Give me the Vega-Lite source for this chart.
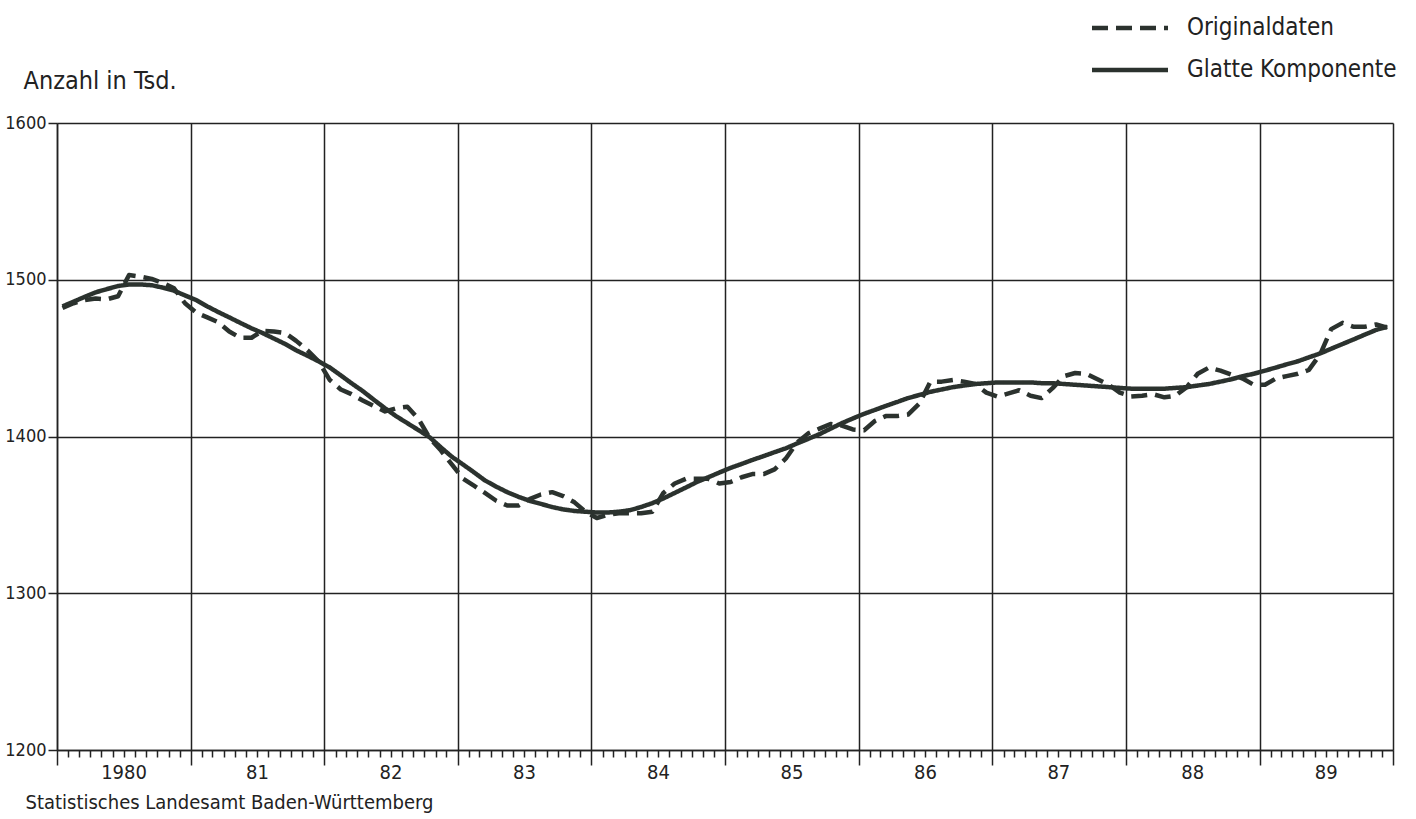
{
  "$schema": "https://vega.github.io/schema/vega-lite/v6.json",
  "width": 1336,
  "height": 627,
  "autosize": {"type": "none"},
  "padding": {"left": 57, "top": 123, "right": 23, "bottom": 69},
  "background": "white",
  "config": {
    "view": {"stroke": null},
    "font": "DejaVu Sans Condensed, Liberation Sans Narrow, Roboto, sans-serif"
  },
  "data": {
    "values": [
      {"d": "1980/01/16", "Originaldaten": 1482, "Glatte Komponente": 1483},
      {"d": "1980/02/15", "Originaldaten": 1485, "Glatte Komponente": 1486},
      {"d": "1980/03/16", "Originaldaten": 1487, "Glatte Komponente": 1489},
      {"d": "1980/04/16", "Originaldaten": 1488, "Glatte Komponente": 1492},
      {"d": "1980/05/16", "Originaldaten": 1487.5, "Glatte Komponente": 1494},
      {"d": "1980/06/16", "Originaldaten": 1489.5, "Glatte Komponente": 1496},
      {"d": "1980/07/16", "Originaldaten": 1503, "Glatte Komponente": 1497},
      {"d": "1980/08/16", "Originaldaten": 1502, "Glatte Komponente": 1497},
      {"d": "1980/09/16", "Originaldaten": 1500.5, "Glatte Komponente": 1496.5},
      {"d": "1980/10/16", "Originaldaten": 1498, "Glatte Komponente": 1495},
      {"d": "1980/11/16", "Originaldaten": 1494.5, "Glatte Komponente": 1493},
      {"d": "1980/12/16", "Originaldaten": 1485, "Glatte Komponente": 1490},
      {"d": "1981/01/16", "Originaldaten": 1479, "Glatte Komponente": 1487},
      {"d": "1981/02/15", "Originaldaten": 1476, "Glatte Komponente": 1483},
      {"d": "1981/03/16", "Originaldaten": 1473, "Glatte Komponente": 1479.5},
      {"d": "1981/04/16", "Originaldaten": 1467, "Glatte Komponente": 1476},
      {"d": "1981/05/16", "Originaldaten": 1463, "Glatte Komponente": 1472.5},
      {"d": "1981/06/16", "Originaldaten": 1463, "Glatte Komponente": 1469},
      {"d": "1981/07/16", "Originaldaten": 1467.5, "Glatte Komponente": 1466},
      {"d": "1981/08/16", "Originaldaten": 1467, "Glatte Komponente": 1462.5},
      {"d": "1981/09/16", "Originaldaten": 1466, "Glatte Komponente": 1459},
      {"d": "1981/10/16", "Originaldaten": 1461, "Glatte Komponente": 1455},
      {"d": "1981/11/16", "Originaldaten": 1455, "Glatte Komponente": 1451.5},
      {"d": "1981/12/16", "Originaldaten": 1448, "Glatte Komponente": 1448},
      {"d": "1982/01/16", "Originaldaten": 1436, "Glatte Komponente": 1444},
      {"d": "1982/02/15", "Originaldaten": 1430, "Glatte Komponente": 1439},
      {"d": "1982/03/16", "Originaldaten": 1427, "Glatte Komponente": 1434},
      {"d": "1982/04/16", "Originaldaten": 1423, "Glatte Komponente": 1429},
      {"d": "1982/05/16", "Originaldaten": 1419.5, "Glatte Komponente": 1423.5},
      {"d": "1982/06/16", "Originaldaten": 1416, "Glatte Komponente": 1418},
      {"d": "1982/07/16", "Originaldaten": 1418, "Glatte Komponente": 1413},
      {"d": "1982/08/16", "Originaldaten": 1419, "Glatte Komponente": 1408.5},
      {"d": "1982/09/16", "Originaldaten": 1411, "Glatte Komponente": 1404},
      {"d": "1982/10/16", "Originaldaten": 1399, "Glatte Komponente": 1399.5},
      {"d": "1982/11/16", "Originaldaten": 1391, "Glatte Komponente": 1393},
      {"d": "1982/12/16", "Originaldaten": 1382, "Glatte Komponente": 1387},
      {"d": "1983/01/16", "Originaldaten": 1373, "Glatte Komponente": 1382},
      {"d": "1983/02/15", "Originaldaten": 1368.5, "Glatte Komponente": 1377},
      {"d": "1983/03/16", "Originaldaten": 1364, "Glatte Komponente": 1372},
      {"d": "1983/04/16", "Originaldaten": 1359, "Glatte Komponente": 1368},
      {"d": "1983/05/16", "Originaldaten": 1356, "Glatte Komponente": 1364.5},
      {"d": "1983/06/16", "Originaldaten": 1356, "Glatte Komponente": 1361.5},
      {"d": "1983/07/16", "Originaldaten": 1360, "Glatte Komponente": 1359},
      {"d": "1983/08/16", "Originaldaten": 1363, "Glatte Komponente": 1357},
      {"d": "1983/09/16", "Originaldaten": 1364.5, "Glatte Komponente": 1355},
      {"d": "1983/10/16", "Originaldaten": 1362, "Glatte Komponente": 1353.5},
      {"d": "1983/11/16", "Originaldaten": 1358, "Glatte Komponente": 1352.5},
      {"d": "1983/12/16", "Originaldaten": 1352, "Glatte Komponente": 1352},
      {"d": "1984/01/16", "Originaldaten": 1348, "Glatte Komponente": 1351.5},
      {"d": "1984/02/15", "Originaldaten": 1350, "Glatte Komponente": 1351.5},
      {"d": "1984/03/16", "Originaldaten": 1351, "Glatte Komponente": 1352},
      {"d": "1984/04/16", "Originaldaten": 1351, "Glatte Komponente": 1353},
      {"d": "1984/05/16", "Originaldaten": 1351, "Glatte Komponente": 1355},
      {"d": "1984/06/16", "Originaldaten": 1352, "Glatte Komponente": 1357.5},
      {"d": "1984/07/16", "Originaldaten": 1364, "Glatte Komponente": 1360.5},
      {"d": "1984/08/16", "Originaldaten": 1370, "Glatte Komponente": 1364},
      {"d": "1984/09/16", "Originaldaten": 1373, "Glatte Komponente": 1367.5},
      {"d": "1984/10/16", "Originaldaten": 1373, "Glatte Komponente": 1371},
      {"d": "1984/11/16", "Originaldaten": 1373, "Glatte Komponente": 1374},
      {"d": "1984/12/16", "Originaldaten": 1370, "Glatte Komponente": 1377},
      {"d": "1985/01/16", "Originaldaten": 1371, "Glatte Komponente": 1380},
      {"d": "1985/02/15", "Originaldaten": 1374, "Glatte Komponente": 1382.5},
      {"d": "1985/03/16", "Originaldaten": 1376, "Glatte Komponente": 1385},
      {"d": "1985/04/16", "Originaldaten": 1376, "Glatte Komponente": 1387.5},
      {"d": "1985/05/16", "Originaldaten": 1379, "Glatte Komponente": 1390},
      {"d": "1985/06/16", "Originaldaten": 1386, "Glatte Komponente": 1392.5},
      {"d": "1985/07/16", "Originaldaten": 1396, "Glatte Komponente": 1395.5},
      {"d": "1985/08/16", "Originaldaten": 1402, "Glatte Komponente": 1398.5},
      {"d": "1985/09/16", "Originaldaten": 1405, "Glatte Komponente": 1401.5},
      {"d": "1985/10/16", "Originaldaten": 1408, "Glatte Komponente": 1405},
      {"d": "1985/11/16", "Originaldaten": 1407, "Glatte Komponente": 1408.5},
      {"d": "1985/12/16", "Originaldaten": 1404.5, "Glatte Komponente": 1411.5},
      {"d": "1986/01/16", "Originaldaten": 1404, "Glatte Komponente": 1414.5},
      {"d": "1986/02/15", "Originaldaten": 1410, "Glatte Komponente": 1417},
      {"d": "1986/03/16", "Originaldaten": 1413, "Glatte Komponente": 1419.5},
      {"d": "1986/04/16", "Originaldaten": 1413, "Glatte Komponente": 1422},
      {"d": "1986/05/16", "Originaldaten": 1414, "Glatte Komponente": 1424.5},
      {"d": "1986/06/16", "Originaldaten": 1421, "Glatte Komponente": 1426.5},
      {"d": "1986/07/16", "Originaldaten": 1435, "Glatte Komponente": 1428.5},
      {"d": "1986/08/16", "Originaldaten": 1435, "Glatte Komponente": 1430},
      {"d": "1986/09/16", "Originaldaten": 1436, "Glatte Komponente": 1431.5},
      {"d": "1986/10/16", "Originaldaten": 1435, "Glatte Komponente": 1432.5},
      {"d": "1986/11/16", "Originaldaten": 1433.5, "Glatte Komponente": 1433.5},
      {"d": "1986/12/16", "Originaldaten": 1428, "Glatte Komponente": 1434},
      {"d": "1987/01/16", "Originaldaten": 1425.5, "Glatte Komponente": 1434.5},
      {"d": "1987/02/15", "Originaldaten": 1427.5, "Glatte Komponente": 1434.5},
      {"d": "1987/03/16", "Originaldaten": 1429.5, "Glatte Komponente": 1434.5},
      {"d": "1987/04/16", "Originaldaten": 1426, "Glatte Komponente": 1434.5},
      {"d": "1987/05/16", "Originaldaten": 1424.5, "Glatte Komponente": 1434},
      {"d": "1987/06/16", "Originaldaten": 1431, "Glatte Komponente": 1434},
      {"d": "1987/07/16", "Originaldaten": 1438.5, "Glatte Komponente": 1433.5},
      {"d": "1987/08/16", "Originaldaten": 1440.5, "Glatte Komponente": 1433},
      {"d": "1987/09/16", "Originaldaten": 1440, "Glatte Komponente": 1432.5},
      {"d": "1987/10/16", "Originaldaten": 1436.5, "Glatte Komponente": 1432},
      {"d": "1987/11/16", "Originaldaten": 1433, "Glatte Komponente": 1431.5},
      {"d": "1987/12/16", "Originaldaten": 1428, "Glatte Komponente": 1431},
      {"d": "1988/01/16", "Originaldaten": 1425.5, "Glatte Komponente": 1430.5},
      {"d": "1988/02/15", "Originaldaten": 1426, "Glatte Komponente": 1430.5},
      {"d": "1988/03/16", "Originaldaten": 1427, "Glatte Komponente": 1430.5},
      {"d": "1988/04/16", "Originaldaten": 1425, "Glatte Komponente": 1430.5},
      {"d": "1988/05/16", "Originaldaten": 1426, "Glatte Komponente": 1431},
      {"d": "1988/06/16", "Originaldaten": 1431.5, "Glatte Komponente": 1431.5},
      {"d": "1988/07/16", "Originaldaten": 1440, "Glatte Komponente": 1432.5},
      {"d": "1988/08/16", "Originaldaten": 1444, "Glatte Komponente": 1433.5},
      {"d": "1988/09/16", "Originaldaten": 1442, "Glatte Komponente": 1435},
      {"d": "1988/10/16", "Originaldaten": 1439.5, "Glatte Komponente": 1436.5},
      {"d": "1988/11/16", "Originaldaten": 1437, "Glatte Komponente": 1438.5},
      {"d": "1988/12/16", "Originaldaten": 1433, "Glatte Komponente": 1440},
      {"d": "1989/01/16", "Originaldaten": 1433, "Glatte Komponente": 1442},
      {"d": "1989/02/15", "Originaldaten": 1437, "Glatte Komponente": 1444},
      {"d": "1989/03/16", "Originaldaten": 1438.5, "Glatte Komponente": 1446},
      {"d": "1989/04/16", "Originaldaten": 1440, "Glatte Komponente": 1448},
      {"d": "1989/05/16", "Originaldaten": 1442.5, "Glatte Komponente": 1450.5},
      {"d": "1989/06/16", "Originaldaten": 1452.5, "Glatte Komponente": 1453},
      {"d": "1989/07/16", "Originaldaten": 1468.5, "Glatte Komponente": 1456},
      {"d": "1989/08/16", "Originaldaten": 1472.5, "Glatte Komponente": 1459},
      {"d": "1989/09/16", "Originaldaten": 1470, "Glatte Komponente": 1462},
      {"d": "1989/10/16", "Originaldaten": 1470, "Glatte Komponente": 1465},
      {"d": "1989/11/16", "Originaldaten": 1471.5, "Glatte Komponente": 1468},
      {"d": "1989/12/16", "Originaldaten": 1469.5, "Glatte Komponente": 1470}
    ]
  },
  "transform": [
    {"fold": ["Originaldaten", "Glatte Komponente"], "as": ["Reihe", "Wert"]}
  ],
  "mark": {"type": "line", "color": "#2b322e", "strokeWidth": 4.5, "strokeJoin": "round"},
  "encoding": {
    "x": {
      "field": "d",
      "type": "temporal",
      "scale": {"domain": [{"year": 1980, "month": 1, "date": 1}, {"year": 1990, "month": 1, "date": 1}]},
      "axis": {
        "tickCount": {"interval": "month", "step": 1},
        "title": "Statistisches Landesamt Baden-Württemberg",
        "titleAngle": 0,
        "titleX": -32,
        "titleY": 58,
        "titleAlign": "left",
        "titleBaseline": "alphabetic",
        "titleFontSize": 20,
        "titleFontWeight": "normal",
        "titleColor": "#222222",
        "titleLimit": 0,
        "labelExpr": "month(datum.value) == 6 ? (year(datum.value) == 1980 ? '1980' : timeFormat(datum.value, '%y')) : ''",
        "labelOverlap": false,
        "labelBound": false,
        "labelFlush": false,
        "labelFontSize": 20,
        "labelColor": "#222222",
        "labelPadding": 5,
        "tickSize": {"condition": {"test": "month(datum.value) == 0", "value": 15}, "value": 7},
        "tickColor": "#222222",
        "tickWidth": 1.5,
        "domainColor": "#222222",
        "domainWidth": 1.5,
        "grid": true,
        "gridColor": "#222222",
        "gridWidth": 1.5,
        "gridOpacity": {"condition": {"test": "month(datum.value) == 0", "value": 1}, "value": 0}
      }
    },
    "y": {
      "field": "Wert",
      "type": "quantitative",
      "scale": {"domain": [1200, 1600], "nice": false, "zero": false},
      "axis": {
        "values": [1200, 1300, 1400, 1500, 1600],
        "format": "d",
        "title": "Anzahl in Tsd.",
        "titleAngle": 0,
        "titleX": -34,
        "titleY": -35,
        "titleAlign": "left",
        "titleBaseline": "alphabetic",
        "titleFontSize": 25,
        "titleFontWeight": "normal",
        "titleColor": "#222222",
        "labelFontSize": 18,
        "labelColor": "#222222",
        "labelPadding": 2,
        "tickSize": 9,
        "tickColor": "#222222",
        "tickWidth": 1.5,
        "domainColor": "#222222",
        "domainWidth": 1.5,
        "grid": true,
        "gridColor": "#222222",
        "gridWidth": 1.5
      }
    },
    "strokeDash": {
      "field": "Reihe",
      "type": "nominal",
      "scale": {"domain": ["Originaldaten", "Glatte Komponente"], "range": [[16, 8], [1, 0]]},
      "legend": {
        "orient": "none",
        "legendX": 1061,
        "legendY": -107,
        "title": null,
        "padding": 0,
        "symbolType": "M-4,0H4",
        "symbolSize": 361,
        "symbolStrokeWidth": 4.5,
        "symbolStrokeColor": "#2b322e",
        "labelFontSize": 24,
        "labelColor": "#222222",
        "labelOffset": 45,
        "labelLimit": 0,
        "rowPadding": 18
      }
    }
  }
}
